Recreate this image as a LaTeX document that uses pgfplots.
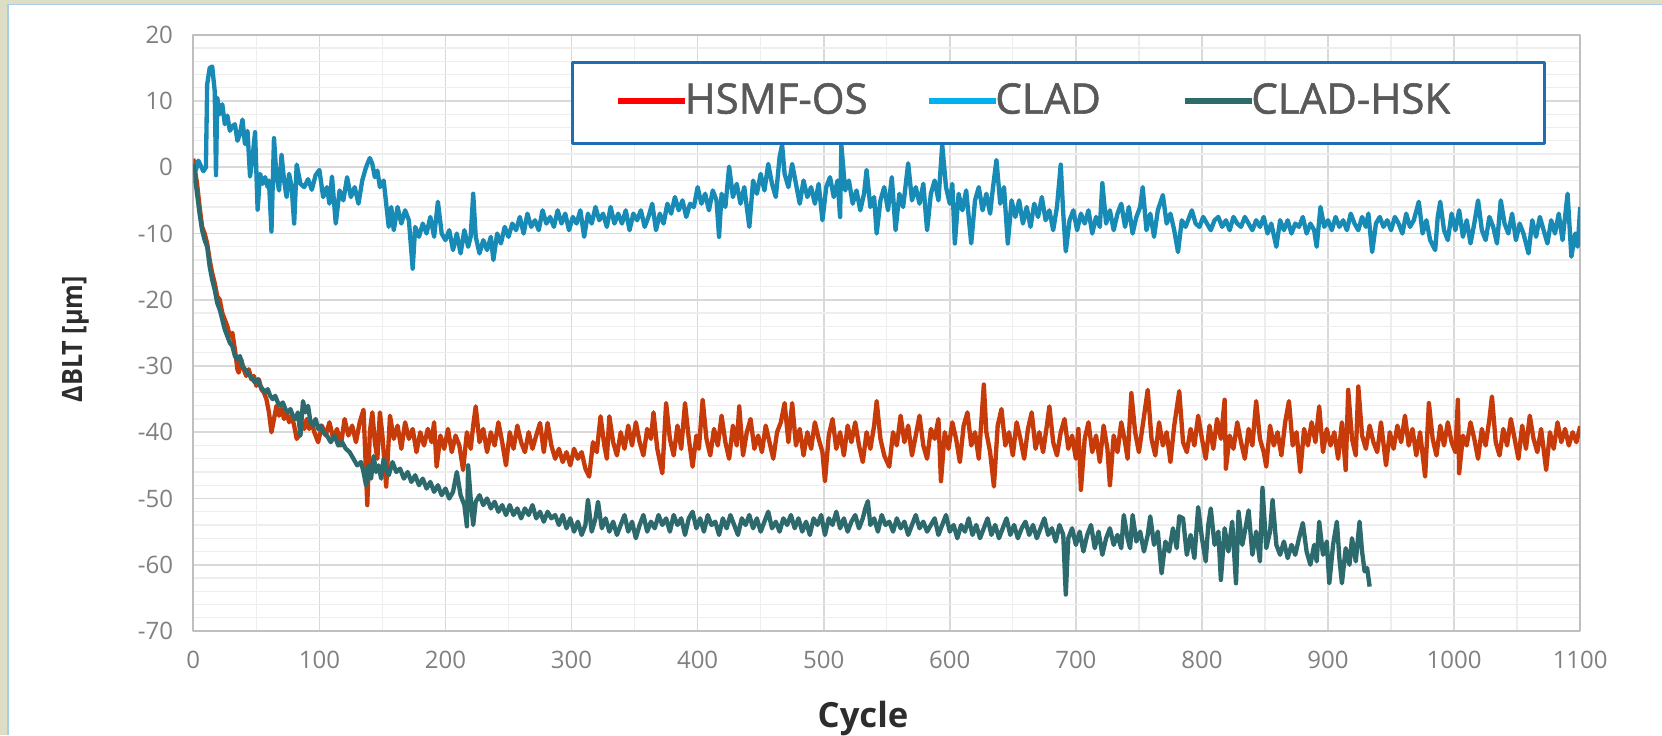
\documentclass[border=0pt]{standalone}
\usepackage{pgfplots}
\usepackage{pgfplotstable}
\pgfplotsset{compat=1.18}
\usepackage{fontspec}
\setmainfont{Open Sans}
\newfontfamily\legfont[FakeBold=1.3]{Open Sans}
\newfontfamily\ylabfont[FakeStretch=0.9]{Open Sans}
\definecolor{bgbeige}{RGB}{222,222,198}
\definecolor{edgeblue}{RGB}{168,205,232}
\definecolor{gridmaj}{RGB}{217,217,217}
\definecolor{gridmin}{RGB}{238,238,238}
\definecolor{axisgray}{RGB}{191,191,191}
\definecolor{tickgray}{RGB}{128,128,128}
\definecolor{labgray}{RGB}{45,45,45}
\definecolor{leggray}{RGB}{89,89,89}
\definecolor{legblue}{RGB}{31,110,178}
\definecolor{cHSMF}{RGB}{199,58,10}
\definecolor{cCLAD}{RGB}{23,138,181}
\definecolor{cHSK}{RGB}{45,106,110}
\definecolor{lHSMF}{RGB}{255,0,0}
\definecolor{lCLAD}{RGB}{0,176,240}
\definecolor{lHSK}{RGB}{45,106,106}

\pgfplotstableread[row sep=\\]{x y\\
0 0.5\\ 2 -0.5\\ 4 1.0\\ 6 0.2\\ 8 -0.6\\ 10 0.0\\ 11 12.5\\ 13 15.0\\ 15 15.2\\ 17 11.5\\ 18 -1.2\\ 19 10.5\\ 21 8.0\\ 23 9.5\\ 25 6.5\\ 27 7.8\\ 29 5.5\\ 31 6.2\\ 33 6.5\\ 35 4.0\\ 37 5.0\\ 39 7.2\\ 41 3.5\\ 43 5.5\\ 45 -1.4\\ 47 1.5\\ 49 5.3\\ 51 -6.4\\ 53 -1.0\\ 55 -2.5\\ 57 -1.5\\ 59 -3.0\\ 60 -2.0\\ 62 -9.7\\ 64 4.4\\ 66 -1.5\\ 68 -3.5\\ 70 1.9\\ 72 -2.0\\ 74 -4.5\\ 76 -1.0\\ 78 -3.0\\ 80 -8.5\\ 82 0.4\\ 85 -2.5\\ 88 -3.0\\ 91 -1.8\\ 94 -3.4\\ 97 -1.2\\ 100 -0.4\\
103 -4.5\\ 106 -3.0\\ 108 -5.5\\ 110 -1.4\\ 113 -8.5\\ 116 -3.5\\ 119 -5.0\\ 122 -1.5\\ 125 -4.5\\ 128 -3.0\\ 131 -5.5\\ 134 -2.0\\ 137 0.0\\ 140 1.4\\ 142 0.5\\ 144 -1.5\\ 146 -0.5\\ 148 -3.0\\ 151 -2.0\\ 153 -5.5\\ 155 -9.0\\ 157 -6.0\\ 159 -9.5\\ 162 -6.0\\ 165 -8.5\\ 168 -6.5\\ 171 -8.0\\ 174 -15.3\\ 176 -9.0\\ 179 -10.5\\ 182 -8.5\\ 185 -10.0\\ 188 -7.5\\ 191 -10.5\\ 194 -5.2\\ 197 -10.0\\ 200 -11.0\\
203 -9.5\\ 206 -12.5\\ 209 -10.0\\ 212 -13.0\\ 215 -9.5\\ 218 -12.0\\ 220 -10.5\\ 222 -4.0\\ 224 -10.5\\ 227 -13.0\\ 230 -11.0\\ 233 -12.5\\ 236 -10.5\\ 238 -14.0\\ 241 -10.0\\ 244 -11.5\\ 247 -9.0\\ 250 -10.5\\ 253 -8.5\\ 256 -9.5\\ 259 -7.5\\ 262 -10.0\\ 265 -7.0\\ 268 -9.0\\ 271 -8.0\\ 274 -9.5\\ 277 -6.5\\ 280 -8.5\\ 283 -7.5\\ 286 -9.0\\ 289 -6.5\\ 292 -8.5\\ 295 -7.0\\ 298 -9.5\\
301 -7.5\\ 304 -8.5\\ 307 -6.5\\ 310 -10.5\\ 313 -7.0\\ 316 -8.5\\ 319 -6.0\\ 322 -8.0\\ 325 -7.0\\ 328 -9.0\\ 331 -6.0\\ 334 -8.5\\ 337 -7.0\\ 340 -8.5\\ 343 -6.5\\ 346 -9.5\\ 349 -7.0\\ 352 -8.0\\ 355 -6.5\\ 358 -9.0\\ 361 -7.5\\ 364 -5.5\\ 367 -9.5\\ 370 -7.0\\ 373 -8.5\\ 376 -5.5\\ 379 -7.0\\ 382 -4.5\\ 385 -6.5\\ 388 -5.0\\ 391 -7.5\\ 394 -5.5\\ 397 -6.0\\
400 -3.0\\ 403 -5.5\\ 406 -4.0\\ 409 -6.5\\ 412 -3.5\\ 415 -5.0\\ 417 -10.5\\ 419 -4.0\\ 422 -6.0\\ 425 0.1\\ 428 -4.5\\ 431 -2.5\\ 434 -5.5\\ 437 -3.0\\ 441 -9.0\\ 444 -2.0\\ 447 -4.0\\ 450 -1.0\\ 453 -3.5\\ 456 0.5\\ 459 -2.5\\ 462 -4.5\\ 465 1.5\\ 467 3.4\\ 469 -1.0\\ 472 -3.0\\ 475 0.5\\ 478 -2.5\\ 481 -5.5\\ 484 -2.0\\ 487 -4.5\\ 490 -3.0\\ 493 -5.5\\ 496 -2.5\\ 499 -8.0\\
502 -3.0\\ 505 -1.5\\ 508 -4.5\\ 511 -2.0\\ 513 -7.5\\ 514 3.4\\ 517 -3.5\\ 520 -2.0\\ 523 -5.5\\ 526 -3.5\\ 529 -6.5\\ 532 -4.0\\ 534 -0.4\\ 537 -6.0\\ 540 -4.5\\ 542 -10.0\\ 545 -5.0\\ 548 -3.0\\ 551 -6.5\\ 554 -1.5\\ 557 -9.5\\ 560 -4.0\\ 563 -6.0\\ 567 0.6\\ 570 -5.0\\ 573 -3.0\\ 576 -5.5\\ 579 -2.5\\ 582 -9.5\\ 585 -4.0\\ 588 -2.0\\ 591 -5.0\\ 594 3.4\\ 597 -3.0\\
600 -5.5\\ 602 -2.5\\ 604 -11.5\\ 607 -4.0\\ 610 -6.5\\ 613 -3.5\\ 617 -11.5\\ 620 -5.0\\ 623 -3.0\\ 626 -6.5\\ 629 -4.0\\ 632 -7.0\\ 634 -3.5\\ 637 1.1\\ 640 -5.5\\ 643 -3.0\\ 646 -11.5\\ 649 -5.0\\ 652 -7.5\\ 655 -5.0\\ 658 -8.5\\ 661 -6.0\\ 664 -9.0\\ 667 -5.5\\ 670 -7.5\\ 673 -4.5\\ 676 -8.0\\ 679 -6.5\\ 682 -9.5\\ 685 -6.0\\ 688 0.4\\ 690 -7.0\\ 692 -12.7\\ 695 -8.0\\ 698 -6.5\\
701 -9.5\\ 704 -7.0\\ 707 -8.5\\ 710 -6.5\\ 713 -10.0\\ 716 -7.5\\ 719 -9.0\\ 721 -2.4\\ 724 -8.5\\ 727 -6.5\\ 730 -9.5\\ 733 -7.0\\ 736 -5.5\\ 739 -9.0\\ 742 -6.0\\ 745 -10.0\\ 748 -7.5\\ 751 -6.0\\ 753 -3.0\\ 756 -9.5\\ 759 -7.0\\ 762 -10.5\\ 765 -6.5\\ 769 -4.2\\ 772 -8.5\\ 775 -7.0\\ 778 -9.5\\ 781 -12.8\\ 784 -8.0\\ 787 -9.0\\ 790 -7.5\\ 792 -6.5\\ 795 -8.5\\ 798 -9.0\\
801 -7.5\\ 804 -8.5\\ 807 -9.5\\ 810 -8.0\\ 813 -7.5\\ 816 -9.0\\ 819 -8.0\\ 822 -9.5\\ 825 -7.5\\ 828 -8.5\\ 831 -9.0\\ 834 -7.5\\ 837 -8.5\\ 840 -9.5\\ 843 -8.0\\ 846 -9.0\\ 849 -7.5\\ 852 -10.0\\ 855 -8.5\\ 859 -12.0\\ 862 -8.0\\ 865 -9.5\\ 868 -8.0\\ 871 -10.0\\ 874 -8.5\\ 877 -9.0\\ 880 -7.5\\ 883 -10.0\\ 886 -8.5\\ 889 -9.5\\ 891 -12.0\\ 894 -6.0\\ 897 -9.0\\
900 -8.0\\ 903 -9.5\\ 906 -7.5\\ 909 -9.0\\ 912 -8.0\\ 915 -9.5\\ 918 -7.0\\ 921 -8.5\\ 924 -9.5\\ 927 -7.5\\ 930 -9.0\\ 932 -7.0\\ 935 -12.8\\ 938 -8.5\\ 941 -7.5\\ 944 -9.0\\ 947 -8.0\\ 950 -9.5\\ 953 -7.5\\ 956 -8.5\\ 959 -10.0\\ 962 -7.0\\ 965 -9.0\\ 968 -8.0\\ 972 -5.2\\ 975 -10.0\\ 978 -8.0\\ 981 -11.0\\ 985 -12.5\\ 987 -7.5\\ 989 -5.2\\ 992 -9.5\\ 995 -11.0\\ 998 -7.0\\
1001 -9.5\\ 1004 -6.5\\ 1007 -10.5\\ 1010 -8.0\\ 1013 -11.5\\ 1016 -8.5\\ 1019 -5.0\\ 1022 -9.5\\ 1025 -11.0\\ 1028 -7.5\\ 1031 -9.0\\ 1034 -11.5\\ 1037 -5.0\\ 1040 -8.5\\ 1043 -10.0\\ 1046 -7.0\\ 1049 -11.0\\ 1052 -8.5\\ 1055 -10.0\\ 1059 -13.0\\ 1062 -8.0\\ 1065 -10.5\\ 1068 -7.5\\ 1071 -9.5\\ 1074 -11.5\\ 1077 -8.0\\ 1080 -10.0\\ 1083 -7.0\\ 1086 -11.0\\ 1090 -4.0\\ 1093 -13.5\\ 1096 -10.0\\ 1098 -12.0\\ 1100 -6.0\\
}\clad

\pgfplotstableread[row sep=\\]{x y\\
0 1.3\\ 1 0.0\\ 3 -2.5\\ 5 -6.0\\ 7 -9.0\\ 9 -10.0\\ 11 -11.5\\ 13 -14.0\\ 15 -16.0\\ 17 -17.5\\ 19 -19.5\\ 21 -20.0\\ 23 -22.0\\ 25 -23.0\\ 27 -24.0\\ 29 -25.5\\ 31 -25.0\\ 33 -27.5\\ 35 -30.5\\ 36 -31.0\\ 38 -29.0\\ 40 -30.5\\ 42 -31.5\\ 44 -30.5\\ 46 -32.0\\ 48 -31.5\\ 50 -33.0\\ 52 -32.0\\ 54 -33.5\\ 56 -34.0\\ 58 -35.0\\ 60 -37.0\\ 62 -40.0\\ 64 -38.0\\ 66 -36.0\\ 68 -37.5\\ 70 -36.5\\ 72 -38.0\\ 74 -37.0\\ 76 -38.5\\ 78 -37.5\\ 80 -39.0\\ 82 -41.0\\ 84 -40.5\\ 86 -38.5\\ 88 -39.5\\ 90 -38.0\\ 92 -39.5\\ 94 -38.5\\ 96 -40.0\\ 99 -41.5\\
102 -39.0\\ 105 -40.5\\ 108 -38.5\\ 111 -41.0\\ 114 -39.5\\ 117 -42.0\\ 120 -38.0\\ 123 -40.5\\ 126 -39.0\\ 129 -41.5\\ 132 -38.5\\ 135 -36.6\\ 138 -51.0\\ 140 -40.0\\ 142 -37.0\\ 144 -41.5\\ 146 -44.0\\ 148 -37.0\\ 150 -40.5\\ 153 -48.2\\ 156 -37.5\\ 159 -41.0\\ 162 -39.0\\ 165 -42.5\\ 168 -38.5\\ 171 -41.0\\ 174 -39.5\\ 177 -43.0\\ 180 -40.0\\ 183 -42.0\\ 186 -39.5\\ 189 -41.5\\ 191 -38.5\\ 193 -45.2\\ 196 -40.5\\ 199 -42.5\\
202 -39.5\\ 205 -43.0\\ 208 -40.5\\ 211 -42.0\\ 214 -45.7\\ 217 -40.0\\ 220 -42.5\\ 222 -39.0\\ 224 -36.1\\ 227 -41.5\\ 230 -39.5\\ 233 -43.0\\ 236 -40.0\\ 239 -42.0\\ 242 -38.5\\ 245 -41.5\\ 248 -45.0\\ 251 -40.0\\ 254 -42.5\\ 257 -39.0\\ 260 -41.5\\ 263 -43.0\\ 266 -40.0\\ 269 -42.5\\ 272 -40.5\\ 275 -38.6\\ 278 -43.0\\ 281 -38.6\\ 284 -42.0\\ 287 -44.0\\ 290 -42.5\\ 293 -44.5\\ 296 -43.0\\ 299 -45.0\\
302 -42.5\\ 305 -44.0\\ 308 -43.0\\ 311 -45.5\\ 314 -46.7\\ 317 -41.5\\ 320 -43.0\\ 323 -37.6\\ 326 -42.0\\ 328 -44.0\\ 330 -37.6\\ 333 -41.5\\ 336 -43.5\\ 339 -40.0\\ 342 -42.5\\ 345 -39.0\\ 348 -42.0\\ 351 -38.5\\ 354 -41.5\\ 357 -43.5\\ 360 -39.5\\ 363 -41.0\\ 365 -37.0\\ 368 -42.5\\ 372 -46.2\\ 375 -35.6\\ 378 -41.0\\ 381 -43.5\\ 384 -39.0\\ 387 -42.5\\ 390 -35.6\\ 393 -41.0\\ 396 -45.2\\ 399 -40.5\\
401 -42.5\\ 404 -35.1\\ 407 -41.0\\ 410 -43.5\\ 413 -39.5\\ 416 -42.0\\ 419 -37.5\\ 422 -41.5\\ 425 -44.0\\ 428 -39.0\\ 431 -42.0\\ 433 -36.1\\ 436 -43.5\\ 439 -40.0\\ 442 -38.0\\ 445 -42.5\\ 448 -40.5\\ 451 -43.0\\ 454 -39.0\\ 457 -41.5\\ 460 -44.0\\ 463 -40.0\\ 466 -38.5\\ 469 -35.6\\ 472 -41.5\\ 475 -35.6\\ 478 -42.0\\ 481 -39.5\\ 484 -43.5\\ 487 -40.0\\ 490 -42.5\\ 493 -38.5\\ 496 -41.0\\ 499 -43.0\\
501 -47.4\\ 504 -40.5\\ 507 -38.0\\ 510 -42.5\\ 513 -40.0\\ 516 -43.5\\ 519 -39.0\\ 522 -41.5\\ 525 -38.5\\ 528 -42.0\\ 531 -44.5\\ 534 -40.0\\ 537 -42.5\\ 540 -39.0\\ 542 -35.3\\ 545 -41.0\\ 548 -43.5\\ 552 -45.2\\ 555 -40.0\\ 558 -42.0\\ 561 -37.5\\ 564 -41.5\\ 567 -39.0\\ 570 -43.5\\ 573 -40.5\\ 576 -37.5\\ 579 -42.0\\ 582 -44.0\\ 585 -39.5\\ 588 -41.0\\ 591 -38.0\\ 593 -47.4\\ 596 -40.0\\ 599 -42.5\\
602 -38.5\\ 605 -41.0\\ 608 -44.5\\ 611 -39.0\\ 614 -37.0\\ 617 -42.0\\ 620 -40.0\\ 623 -44.0\\ 625 -38.5\\ 627 -32.8\\ 629 -40.0\\ 632 -43.0\\ 635 -48.2\\ 638 -39.0\\ 641 -36.5\\ 644 -42.0\\ 647 -40.0\\ 650 -43.5\\ 653 -38.5\\ 656 -41.0\\ 659 -44.0\\ 662 -39.5\\ 665 -37.0\\ 668 -42.5\\ 671 -40.0\\ 674 -43.0\\ 677 -39.0\\ 679 -36.1\\ 682 -41.5\\ 685 -43.5\\ 688 -40.0\\ 691 -38.0\\ 694 -42.5\\ 697 -40.5\\
700 -44.0\\ 702 -39.5\\ 704 -48.7\\ 707 -41.0\\ 710 -38.5\\ 713 -43.0\\ 716 -40.5\\ 719 -44.5\\ 722 -39.0\\ 725 -42.5\\ 727 -48.0\\ 730 -40.5\\ 733 -43.0\\ 736 -38.5\\ 739 -41.5\\ 741 -44.0\\ 744 -34.1\\ 747 -40.0\\ 750 -43.0\\ 753 -39.0\\ 757 -33.6\\ 760 -41.0\\ 763 -43.5\\ 766 -38.5\\ 769 -42.0\\ 772 -40.0\\ 775 -44.5\\ 778 -39.0\\ 782 -33.8\\ 785 -41.5\\ 788 -43.0\\ 791 -39.5\\ 794 -42.0\\ 797 -37.5\\
800 -41.0\\ 803 -44.0\\ 806 -39.0\\ 809 -42.5\\ 812 -38.0\\ 815 -41.0\\ 818 -35.1\\ 819 -45.5\\ 822 -40.5\\ 825 -42.5\\ 828 -38.5\\ 831 -41.5\\ 834 -44.0\\ 837 -39.5\\ 840 -42.0\\ 843 -35.3\\ 846 -41.0\\ 849 -43.0\\ 851 -45.2\\ 854 -39.0\\ 857 -42.0\\ 860 -40.0\\ 863 -43.5\\ 866 -38.5\\ 869 -35.3\\ 872 -42.0\\ 875 -40.0\\ 878 -46.0\\ 881 -39.5\\ 884 -42.0\\ 887 -38.5\\ 890 -41.5\\ 893 -36.1\\ 896 -43.0\\ 899 -39.5\\
902 -42.0\\ 905 -40.0\\ 908 -44.0\\ 911 -38.5\\ 914 -45.7\\ 916 -33.6\\ 919 -41.0\\ 922 -43.5\\ 924 -33.1\\ 927 -40.5\\ 930 -42.5\\ 933 -39.0\\ 936 -41.5\\ 939 -43.0\\ 942 -38.5\\ 946 -45.0\\ 949 -40.0\\ 952 -42.5\\ 955 -39.0\\ 958 -41.5\\ 961 -37.5\\ 964 -42.0\\ 967 -39.5\\ 970 -43.5\\ 973 -40.0\\ 977 -46.7\\ 980 -35.6\\ 983 -41.0\\ 986 -43.5\\ 989 -39.0\\ 992 -42.0\\ 995 -38.5\\ 998 -41.5\\
1001 -43.0\\ 1003 -35.1\\ 1004 -46.2\\ 1007 -40.5\\ 1010 -42.0\\ 1013 -38.5\\ 1016 -41.0\\ 1019 -44.0\\ 1022 -39.5\\ 1025 -42.0\\ 1028 -38.0\\ 1030 -34.6\\ 1033 -41.5\\ 1036 -43.5\\ 1039 -39.5\\ 1042 -42.0\\ 1045 -38.0\\ 1048 -41.0\\ 1051 -44.0\\ 1054 -39.0\\ 1057 -42.5\\ 1060 -37.5\\ 1063 -41.0\\ 1066 -43.0\\ 1069 -39.5\\ 1073 -45.7\\ 1076 -40.0\\ 1079 -42.5\\ 1082 -38.5\\ 1085 -41.5\\ 1088 -39.5\\ 1091 -42.0\\ 1094 -40.0\\ 1097 -41.5\\ 1100 -39.1\\
}\hsmf

\pgfplotstableread[row sep=\\]{x y\\
0 0.5\\ 1 -1.0\\ 3 -4.0\\ 5 -7.0\\ 7 -9.5\\ 9 -11.0\\ 11 -12.0\\ 13 -15.0\\ 15 -17.0\\ 17 -18.5\\ 19 -20.5\\ 21 -21.5\\ 23 -23.0\\ 25 -24.5\\ 27 -25.5\\ 29 -26.5\\ 31 -27.0\\ 33 -28.5\\ 35 -29.0\\ 37 -28.5\\ 39 -30.0\\ 41 -30.5\\ 43 -31.0\\ 45 -31.5\\ 47 -32.0\\ 49 -32.5\\ 51 -32.0\\ 53 -33.0\\ 55 -33.5\\ 57 -34.0\\ 59 -33.5\\ 61 -34.5\\ 63 -35.0\\ 65 -34.5\\ 67 -35.5\\ 69 -36.0\\ 71 -35.5\\ 73 -36.5\\ 75 -37.0\\ 77 -36.5\\ 79 -37.5\\ 81 -38.0\\ 83 -37.0\\ 85 -40.5\\ 87 -35.3\\ 89 -37.0\\ 91 -36.0\\ 93 -38.5\\ 95 -39.0\\ 97 -38.0\\ 99 -39.5\\
101 -39.0\\ 103 -40.0\\ 106 -40.5\\ 109 -41.5\\ 112 -40.5\\ 115 -42.0\\ 118 -41.5\\ 121 -42.5\\ 124 -43.0\\ 127 -44.0\\ 130 -45.0\\ 133 -44.5\\ 135 -46.0\\ 137 -48.0\\ 139 -45.0\\ 141 -47.0\\ 143 -43.6\\ 145 -46.0\\ 147 -45.0\\ 149 -47.0\\ 151 -44.0\\ 153 -45.5\\ 155 -46.5\\ 158 -44.5\\ 161 -46.0\\ 164 -45.5\\ 167 -47.0\\ 170 -46.0\\ 173 -47.5\\ 176 -46.5\\ 179 -48.0\\ 182 -47.0\\ 185 -48.5\\ 188 -47.5\\ 191 -49.0\\ 194 -48.0\\ 197 -49.5\\ 200 -48.5\\
203 -50.0\\ 206 -49.0\\ 209 -46.0\\ 212 -49.5\\ 215 -51.0\\ 217 -54.2\\ 218 -45.0\\ 220 -50.0\\ 222 -54.0\\ 224 -50.5\\ 227 -49.5\\ 230 -51.0\\ 233 -50.0\\ 236 -51.5\\ 239 -50.5\\ 242 -52.0\\ 245 -51.0\\ 248 -52.5\\ 251 -51.0\\ 254 -52.5\\ 257 -51.5\\ 260 -53.0\\ 263 -51.5\\ 266 -52.5\\ 269 -51.0\\ 272 -53.0\\ 275 -52.0\\ 278 -53.5\\ 281 -52.0\\ 284 -53.0\\ 287 -52.5\\ 290 -54.0\\ 293 -52.5\\ 296 -54.5\\ 299 -53.0\\
302 -55.0\\ 305 -53.5\\ 308 -55.5\\ 311 -54.0\\ 313 -50.2\\ 316 -55.0\\ 319 -53.0\\ 321 -50.5\\ 324 -54.5\\ 327 -53.0\\ 330 -55.0\\ 333 -53.5\\ 336 -55.5\\ 339 -54.0\\ 342 -52.5\\ 345 -55.0\\ 348 -53.5\\ 351 -56.0\\ 354 -54.0\\ 357 -52.5\\ 360 -55.0\\ 363 -53.5\\ 366 -54.5\\ 369 -52.5\\ 372 -54.0\\ 375 -53.0\\ 378 -55.0\\ 381 -52.5\\ 384 -54.0\\ 387 -53.0\\ 390 -55.5\\ 393 -53.0\\ 396 -52.0\\ 399 -54.5\\
402 -53.0\\ 405 -55.0\\ 408 -52.5\\ 411 -54.0\\ 414 -53.5\\ 417 -55.5\\ 420 -53.0\\ 423 -54.5\\ 426 -52.5\\ 429 -54.0\\ 432 -55.5\\ 435 -53.0\\ 438 -54.0\\ 441 -52.5\\ 444 -54.5\\ 447 -53.0\\ 450 -55.0\\ 453 -53.5\\ 456 -52.0\\ 459 -54.5\\ 462 -53.5\\ 465 -55.0\\ 468 -53.0\\ 471 -54.0\\ 474 -52.5\\ 477 -54.5\\ 480 -53.0\\ 483 -55.0\\ 486 -53.5\\ 489 -55.5\\ 492 -53.0\\ 495 -54.0\\ 498 -52.5\\
501 -55.5\\ 504 -53.0\\ 507 -54.0\\ 510 -52.0\\ 513 -54.5\\ 516 -53.0\\ 519 -55.0\\ 522 -53.5\\ 525 -52.5\\ 528 -54.5\\ 531 -53.0\\ 533 -51.5\\ 535 -50.4\\ 537 -54.0\\ 540 -53.0\\ 543 -55.0\\ 546 -52.5\\ 549 -54.0\\ 552 -53.5\\ 555 -55.0\\ 558 -53.0\\ 561 -54.5\\ 564 -53.5\\ 567 -55.5\\ 570 -54.0\\ 573 -52.5\\ 576 -54.5\\ 579 -53.5\\ 582 -55.0\\ 585 -54.0\\ 588 -53.0\\ 591 -55.5\\ 594 -54.0\\ 597 -52.5\\
600 -55.0\\ 603 -54.0\\ 606 -56.0\\ 609 -54.0\\ 612 -55.0\\ 615 -53.0\\ 618 -55.5\\ 621 -54.0\\ 624 -56.0\\ 627 -54.5\\ 630 -53.0\\ 633 -55.5\\ 636 -54.0\\ 639 -56.0\\ 642 -54.5\\ 645 -53.0\\ 648 -55.5\\ 651 -54.0\\ 654 -56.0\\ 657 -54.5\\ 660 -53.5\\ 663 -55.5\\ 666 -54.0\\ 669 -56.0\\ 672 -54.5\\ 675 -53.0\\ 678 -55.5\\ 681 -54.5\\ 684 -56.5\\ 687 -54.0\\ 690 -55.5\\ 692 -64.5\\ 694 -56.0\\ 697 -54.5\\
700 -57.0\\ 703 -55.0\\ 706 -58.0\\ 709 -55.5\\ 712 -54.0\\ 715 -57.5\\ 718 -55.0\\ 721 -58.5\\ 724 -56.0\\ 727 -54.5\\ 730 -57.0\\ 733 -55.5\\ 736 -57.5\\ 738 -52.5\\ 741 -56.0\\ 743 -57.5\\ 745 -52.5\\ 748 -56.5\\ 751 -55.0\\ 754 -58.0\\ 757 -55.5\\ 759 -52.7\\ 762 -57.0\\ 765 -55.0\\ 768 -61.3\\ 771 -56.5\\ 774 -58.0\\ 777 -54.5\\ 780 -57.5\\ 782 -52.7\\ 785 -53.0\\ 788 -58.5\\ 791 -55.5\\ 794 -59.0\\ 797 -51.3\\
800 -56.0\\ 803 -59.5\\ 805 -54.0\\ 807 -51.5\\ 810 -57.0\\ 813 -55.0\\ 815 -62.3\\ 818 -54.5\\ 821 -58.0\\ 824 -53.5\\ 827 -62.8\\ 829 -52.0\\ 832 -57.0\\ 835 -54.0\\ 837 -51.8\\ 840 -58.5\\ 843 -55.0\\ 846 -59.5\\ 848 -48.4\\ 851 -57.5\\ 854 -55.0\\ 856 -50.2\\ 859 -57.0\\ 862 -58.5\\ 865 -56.5\\ 868 -59.0\\ 871 -57.0\\ 874 -58.5\\ 877 -56.0\\ 880 -53.7\\ 883 -58.0\\ 886 -60.0\\ 889 -57.0\\ 891 -59.5\\ 893 -53.5\\ 896 -58.5\\ 899 -56.5\\
901 -62.8\\ 904 -57.0\\ 907 -53.5\\ 909 -59.0\\ 911 -62.8\\ 914 -57.5\\ 917 -60.0\\ 919 -56.0\\ 922 -59.5\\ 925 -53.5\\ 927 -58.0\\ 929 -61.0\\ 931 -60.5\\ 933 -63.3\\
}\hsk

\begin{document}
\begin{tikzpicture}
\fill[bgbeige] (0,0) rectangle (498.6pt,220.5pt);
\fill[white] (2.4pt,0) rectangle (498.6pt,219.1pt);
\draw[edgeblue, line width=0.4pt] (2.4pt,0) -- (2.4pt,219.1pt) -- (498.6pt,219.1pt);
\begin{axis}[
  at={(57.99pt,31.21pt)}, anchor=south west,
  scale only axis, width=416.07pt, height=178.86pt,
  xmin=0, xmax=1100, ymin=-70, ymax=20,
  xtick={0,100,...,1100}, ytick={-70,-60,...,20},
  minor x tick num=1, minor y tick num=4,
  grid=both,
  major grid style={draw=gridmaj, line width=0.5pt},
  minor grid style={draw=gridmin, line width=0.4pt},
  axis line style={draw=axisgray, line width=0.5pt},
  major tick length=0pt, minor tick length=0pt,
  /pgf/number format/assume math mode=true,
  /pgf/number format/set thousands separator={},
  ticklabel style={font=\fontsize{7.2}{8.6}\selectfont, text=tickgray, inner sep=0pt},
  yticklabel style={anchor=east, xshift=-5.9pt},
  xticklabel style={anchor=north, yshift=-5.8pt},
  xlabel={Cycle},
  ylabel={ΔBLT [μm]},
  xlabel style={at={(axis description cs:0.4829,-0.146)}, anchor=center, inner sep=0pt,
     font=\bfseries\fontsize{10.4}{12.5}\selectfont, text=labgray},
  ylabel style={at={(axis description cs:-0.0846,0.4893)}, anchor=center, inner sep=0pt,
     font=\ylabfont\bfseries\fontsize{8.4}{10}\selectfont, text=labgray},
  legend columns=3,
  legend image code/.code={\draw[#1, line width=2pt] (0pt,0pt) -- (20.1pt,0pt);},
  legend style={at={(axis description cs:0.3036,0.8891)}, anchor=west, draw=none, fill=none,
     inner sep=0pt, nodes={inner sep=0pt}, font=\legfont\fontsize{12.6}{15}\selectfont, text=leggray},
  line join=round,
]
\addplot[cHSMF, line width=1.3pt, forget plot] table[x=x,y=y] {\hsmf};
\addplot[cCLAD, line width=1.3pt, forget plot] table[x=x,y=y] {\clad};
\addplot[cHSK, line width=1.3pt, forget plot] table[x=x,y=y] {\hsk};
\draw[legblue, line width=0.9pt, fill=white] (axis description cs:0.2731,0.8180) rectangle (axis description cs:0.9746,0.9539);
\addlegendimage{lHSMF}
\addlegendentry{\hspace{-1.2pt}\makebox[72.3pt][l]{HSMF-OS}}
\addlegendimage{lCLAD}
\addlegendentry{\hspace{-1.2pt}\makebox[55.9pt][l]{CLAD}}
\addlegendimage{lHSK}
\addlegendentry{\hspace{-1.2pt}CLAD-HSK}
\end{axis}
\pgfresetboundingbox
\path[use as bounding box] (0,0) rectangle (498.6pt,220.5pt);
\end{tikzpicture}
\end{document}
